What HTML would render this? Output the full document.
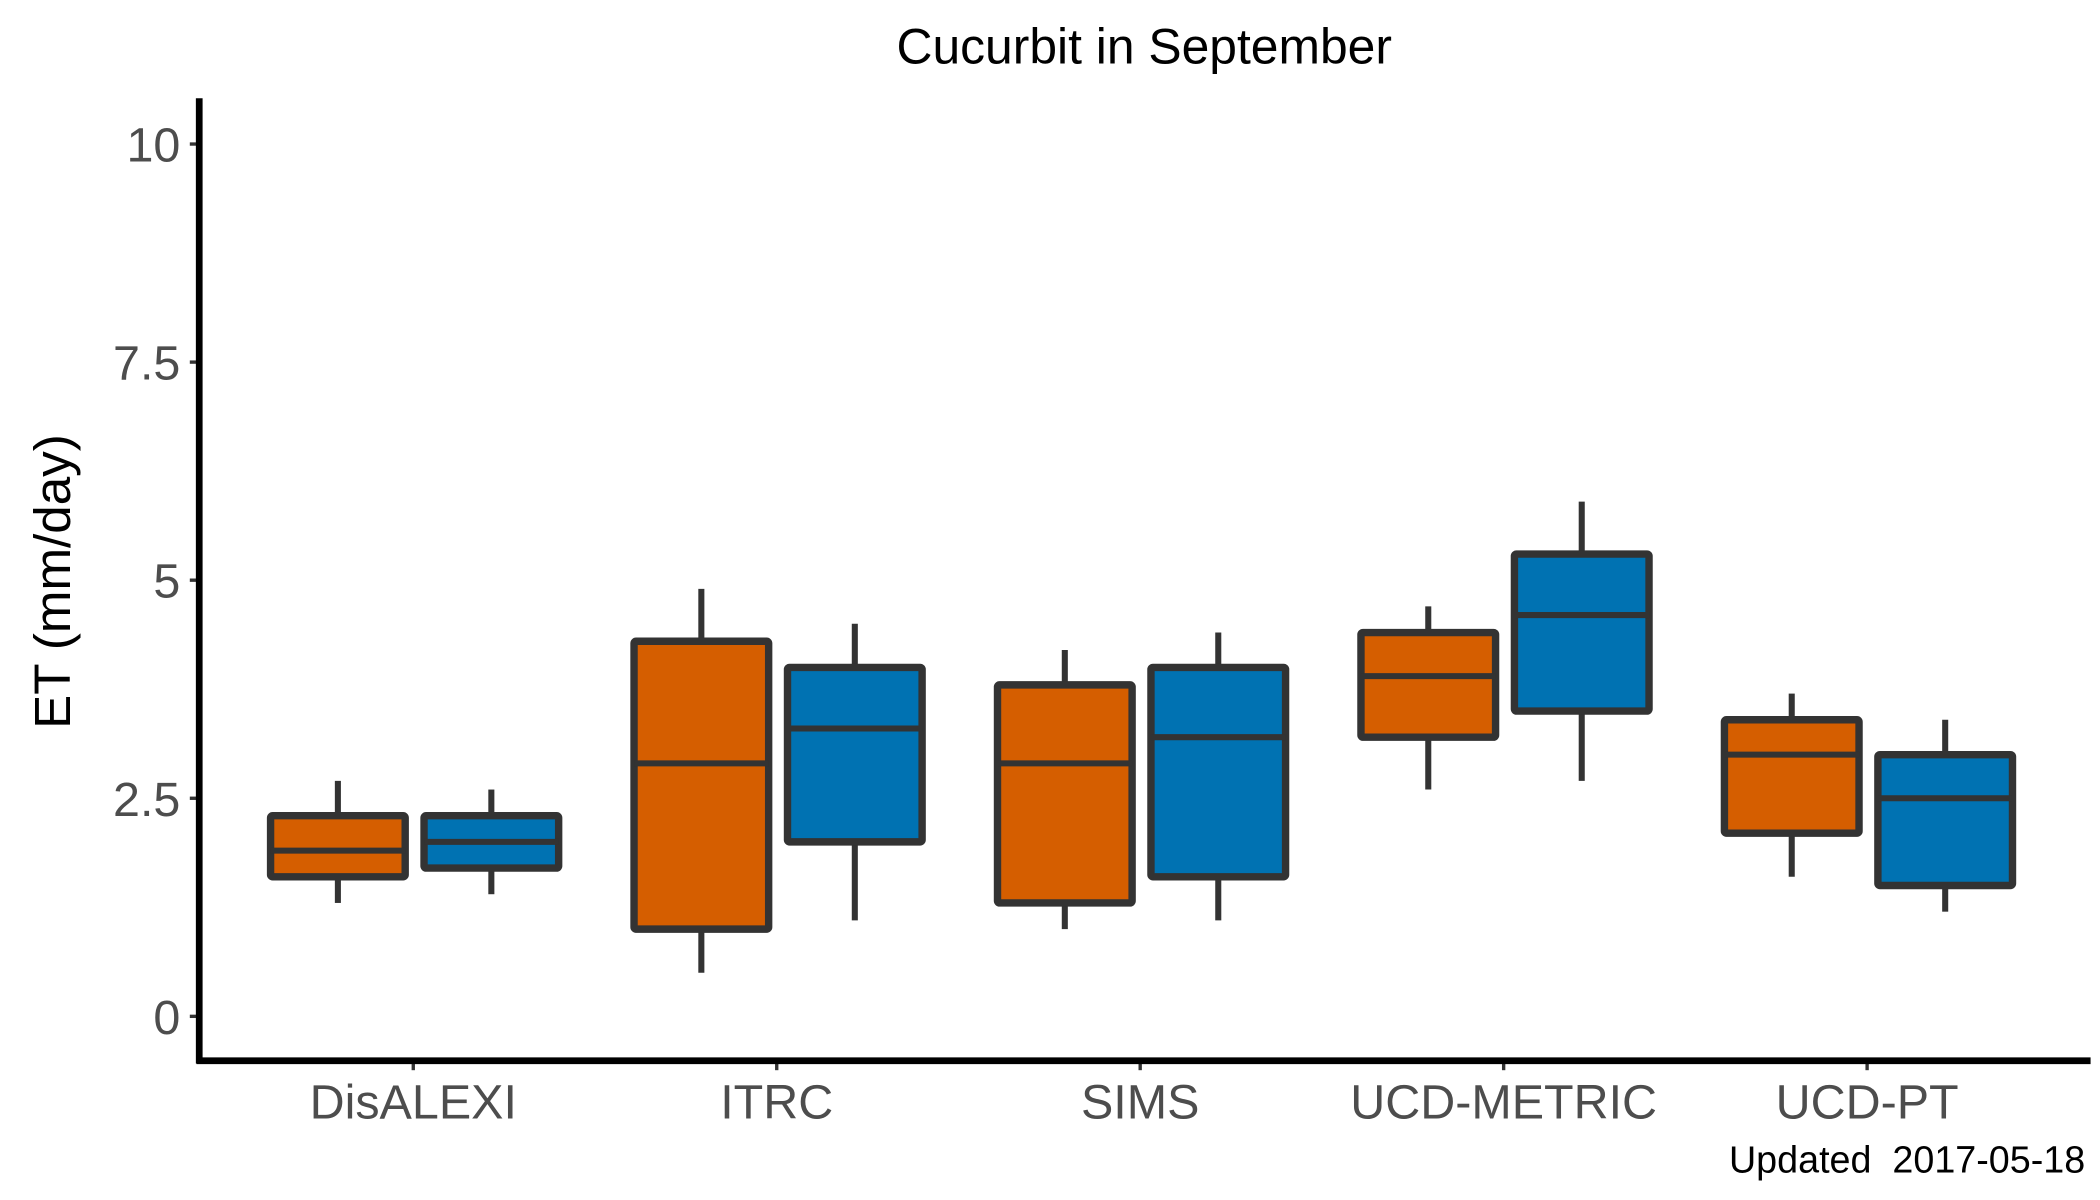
<!DOCTYPE html>
<html><head><meta charset="utf-8"><style>
html,body{margin:0;padding:0;background:#fff;}
svg{display:block;}
text{font-family:"Liberation Sans",Arial,sans-serif;}
</style></head><body>
<svg id="chart" width="2100" height="1200" viewBox="0 0 1560 891.43" preserveAspectRatio="none" xmlns="http://www.w3.org/2000/svg">
<text x="850" y="47" font-size="37" text-anchor="middle" fill="#000">Cucurbit in September</text>
<text transform="translate(52,432) rotate(-90)" font-size="38" text-anchor="middle" fill="#000">ET (mm/day)</text>
<text x="1549" y="871" font-size="28" text-anchor="end" fill="#000">Updated&#160; 2017-05-18</text>
<g id="plot"></g>
</svg>
<script>
const categories = ["DisALEXI","ITRC","SIMS","UCD-METRIC","UCD-PT"];
const yTicks = [0, 2.5, 5, 7.5, 10];
const yTickLabels = ["0","2.5","5","7.5","10"];
// series A (orange)
const aLow = [1.3, 0.5, 1.0, 2.6, 1.6];
const aQ1 = [1.6, 1.0, 1.3, 3.2, 2.1];
const aMed = [1.9, 2.9, 2.9, 3.9, 3.0];
const aQ3 = [2.3, 4.3, 3.8, 4.4, 3.4];
const aHigh = [2.7, 4.9, 4.2, 4.7, 3.7];
// series B (blue)
const bLow = [1.4, 1.1, 1.1, 2.7, 1.2];
const bQ1 = [1.7, 2.0, 1.6, 3.5, 1.5];
const bMed = [2.0, 3.3, 3.2, 4.6, 2.5];
const bQ3 = [2.3, 4.0, 4.0, 5.3, 3.0];
const bHigh = [2.6, 4.5, 4.4, 5.9, 3.4];

const NS = "http://www.w3.org/2000/svg";
const g = document.getElementById("plot");
const y = v => 755 - v * 64.8;
const x = i => 307 + i * 270;
function mk(tag, attrs){const e=document.createElementNS(NS,tag);for(const k in attrs)e.setAttribute(k,attrs[k]);g.appendChild(e);return e;}

yTicks.forEach((t,i)=>{
  const tk = mk("line",{x1:141,x2:148,y1:y(t),y2:y(t),stroke:"#333","stroke-width":2.5});
  
  
  const tl = mk("text",{x:134,y:y(t)+13,"font-size":36,"text-anchor":"end",fill:"#4d4d4d"});
  tl.textContent = yTickLabels[i];
  
  
});
categories.forEach((c,i)=>{
  const tk = mk("line",{x1:x(i),x2:x(i),y1:788,y2:795,stroke:"#333","stroke-width":2.5});
  
  
  const tl = mk("text",{x:x(i),y:831,"font-size":36,"text-anchor":"middle",fill:"#4d4d4d"});
  tl.textContent = c;
  
  
});
function box(cx, lo, q1, md, q3, hi, fill, name){
  const w1 = mk("line",{x1:cx,x2:cx,y1:y(hi),y2:y(q3),stroke:"#333","stroke-width":4.5});
  
  
  const w2 = mk("line",{x1:cx,x2:cx,y1:y(q1),y2:y(lo),stroke:"#333","stroke-width":4.5});
  
  
  const r = mk("rect",{x:cx-50,y:y(q3),width:100,height:y(q1)-y(q3),fill:fill,stroke:"#333","stroke-width":5.5,rx:1.5});
  
  
  const m = mk("line",{x1:cx-50,x2:cx+50,y1:y(md),y2:y(md),stroke:"#333","stroke-width":4.5});
  
  
}
categories.forEach((c,i)=>{
  const slug = c.toLowerCase();
  box(x(i)-56, aLow[i], aQ1[i], aMed[i], aQ3[i], aHigh[i], "#D55E00", slug+'-orange');
  box(x(i)+58, bLow[i], bQ1[i], bMed[i], bQ3[i], bHigh[i], "#0072B2", slug+'-blue');
});
const ya = mk("line",{x1:148,x2:148,y1:73,y2:790,stroke:"#000","stroke-width":5});


const xa = mk("line",{x1:146,x2:1553,y1:788,y2:788,stroke:"#000","stroke-width":5});


</script>
</body></html>
